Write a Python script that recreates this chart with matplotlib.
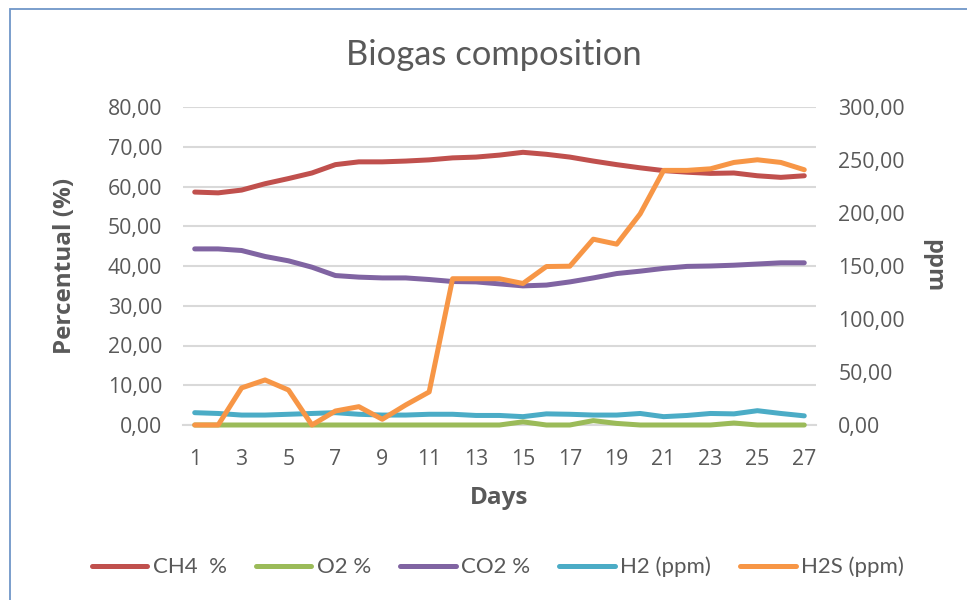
import matplotlib
matplotlib.use("Agg")
import matplotlib.pyplot as plt
from matplotlib.patches import Rectangle
from matplotlib.ticker import FuncFormatter

days = list(range(1, 28))
ch4 = [58.6, 58.4, 59.1, 60.7, 62.0, 63.4, 65.5, 66.2, 66.2, 66.4, 66.7, 67.2, 67.4, 67.9,
       68.6, 68.1, 67.4, 66.4, 65.5, 64.7, 64.0, 63.6, 63.3, 63.4, 62.7, 62.3, 62.7]
o2 = [0, 0, 0, 0, 0, 0, 0, 0, 0, 0, 0, 0, 0, 0,
      0.8, 0, 0, 1.1, 0.4, 0, 0, 0, 0, 0.5, 0, 0, 0]
co2 = [44.3, 44.3, 43.9, 42.4, 41.3, 39.7, 37.6, 37.2, 37.0, 37.0, 36.6, 36.1, 36.0, 35.5,
       35.0, 35.2, 36.0, 37.0, 38.1, 38.7, 39.4, 39.9, 40.0, 40.2, 40.5, 40.8, 40.8]
h2 = [3.1, 2.9, 2.5, 2.5, 2.7, 2.9, 3.1, 2.7, 2.5, 2.5, 2.7, 2.7, 2.4, 2.4,
      2.1, 2.8, 2.7, 2.5, 2.5, 2.9, 2.1, 2.4, 2.9, 2.8, 3.6, 2.9, 2.3]
h2s = [0, 0, 35, 42.5, 33, 0, 13.2, 17.3, 5.4, 18.9, 31.2, 138, 138, 138,
       133.5, 149.5, 149.8, 175.3, 170.6, 199.2, 240.2, 240.2, 241.7, 247.7, 250.2, 247.7, 240.8]

labels = ["CH4  %", "O2 %", "CO2 %", "H2 (ppm)", "H2S (ppm)"]
colors = ["#c0504d", "#9bbb59", "#8064a2", "#4bacc6", "#f79646"]

txt = "#595959"
tickfont = "Open Sans"
lw = 3.6

fig = plt.figure(figsize=(9.67, 6.0), dpi=100)
fig.patches.append(Rectangle((10/967, -0.01), 1.0, 1.0 - 9/600 + 0.01, transform=fig.transFigure,
                             fill=False, edgecolor="#7096c8", linewidth=1.3))

ax = fig.add_axes([183/967, 1 - 425/600, (816 - 183)/967, (425 - 107)/600])
ax2 = ax.twinx()

series = [ch4, o2, co2, h2]
handles = []
for vals, lab, col in zip(series, labels[:4], colors[:4]):
    h, = ax.plot(days, vals, color=col, lw=lw, label=lab, solid_capstyle="round",
                 solid_joinstyle="round", clip_on=False, zorder=3)
    handles.append(h)
h, = ax2.plot(days, h2s, color=colors[4], lw=lw, label=labels[4], solid_capstyle="round",
              solid_joinstyle="round", clip_on=False, zorder=3)
handles.append(h)

ax.set_xlim(0.5, 27.5)
ax.set_ylim(0, 80)
ax2.set_ylim(0, 300)
ax.set_yticks(range(0, 81, 10))
ax2.set_yticks(range(0, 301, 50))
ax.set_xticks(range(1, 28, 2))

fmt = FuncFormatter(lambda v, p: f"{v:.2f}".replace(".", ","))
ax.yaxis.set_major_formatter(fmt)
ax2.yaxis.set_major_formatter(fmt)

ax.grid(axis="y", color="#d9d9d9", lw=1.5)
ax.set_axisbelow(True)
for a in (ax, ax2):
    for s in a.spines.values():
        s.set_visible(False)
ax.spines["bottom"].set_visible(True)
ax.spines["bottom"].set_color("#d9d9d9")
ax.spines["bottom"].set_linewidth(1.5)
ax.spines["bottom"].set_zorder(0.5)

ax.tick_params(axis="both", length=0, labelsize=15.3, labelcolor=txt)
ax.tick_params(axis="y", pad=15)
ax.tick_params(axis="x", pad=17)
ax2.tick_params(axis="y", length=0, labelsize=15.3, labelcolor=txt, pad=16)
for t in ax.get_xticklabels() + ax.get_yticklabels() + ax2.get_yticklabels():
    t.set_fontfamily(tickfont)

ax.set_ylabel("Percentual (%)", fontsize=17.5, fontweight="bold", color=txt, family=tickfont, labelpad=22)
ax2.set_ylabel("ppm", fontsize=17, fontweight="bold", color=txt, family=tickfont, rotation=270, labelpad=20,
               va="center")
ax.set_xlabel("Days", fontsize=17.5, fontweight="bold", color=txt, family=tickfont, labelpad=12)

fig.text(494/967, 1 - 55/600, "Biogas composition", ha="center", va="center", fontsize=24.8,
         color=txt, family="Lato")

fig.legend(handles, labels, loc="center", bbox_to_anchor=(498/967, 1 - 567/600), ncol=5, frameon=False,
           prop={"family": "Lato", "size": 16}, labelcolor=txt, handlelength=2.5, columnspacing=1.3,
           handletextpad=0.25)

fig.savefig("out.png", dpi=100)
